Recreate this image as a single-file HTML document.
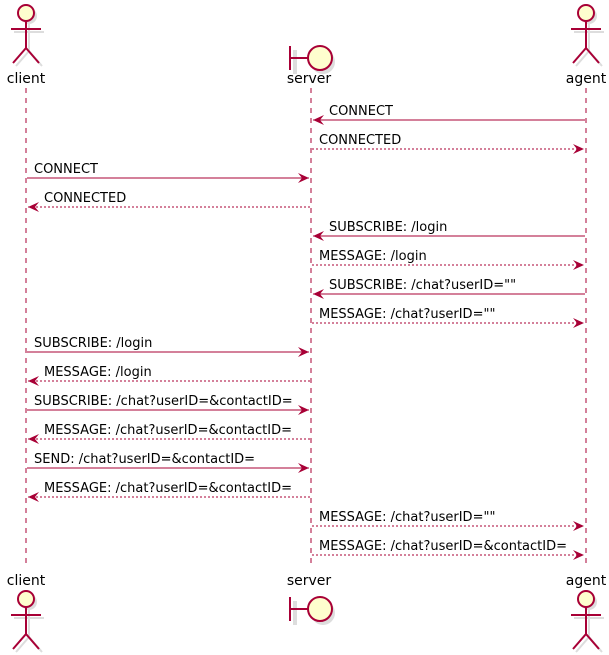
<!DOCTYPE html>
<html><head><style>body{margin:0;background:#fff}svg{display:block}</style></head><body>
<svg width="609" height="655" xmlns="http://www.w3.org/2000/svg" font-family="'DejaVu Sans','Liberation Sans',sans-serif">
<defs>
<g id="actor">
<circle cx="3" cy="3" r="8" fill="#ddd"/>
<path d="M3 11V38M-12 19H18M3 38L-10 53M3 38L16 53" stroke="#ddd" stroke-width="2" fill="none"/>
<circle cx="0" cy="0" r="8" fill="#FEFECE" stroke="#A80036" stroke-width="2"/>
<path d="M0 8V35M-15 16H15M0 35L-13 50M0 35L13 50" stroke="#A80036" stroke-width="2" fill="none"/>
</g>
<g id="bound">
<circle cx="13" cy="4" r="12" fill="#ddd"/>
<rect x="-17" y="-8" width="4" height="24" fill="#ddd"/>
<path d="M-20 -12V12M-20 0H-2" stroke="#A80036" stroke-width="2"/>
<circle cx="10" cy="0" r="12" fill="#FEFECE" stroke="#A80036" stroke-width="2"/>
</g>
<marker id="a" markerWidth="14" markerHeight="12" refX="11" refY="5" orient="auto" markerUnits="userSpaceOnUse"><path d="M0 0L11 5L0 10L4 5Z" fill="#A80036"/></marker>
</defs>
<g stroke="#A80036" stroke-dasharray="5,5">
<line x1="26" y1="88" x2="26" y2="568"/><line x1="311" y1="88" x2="311" y2="568"/><line x1="586" y1="88" x2="586" y2="568"/>
</g>
<use href="#actor" x="26" y="13"/><use href="#actor" x="586" y="13"/><use href="#bound" x="310" y="58"/>
<use href="#actor" x="26" y="599"/><use href="#actor" x="586" y="599"/><use href="#bound" x="310" y="609"/>
<g font-size="14" text-anchor="middle" fill="#000">
<text x="26" y="83">client</text><text x="309" y="83">server</text><text x="586" y="83">agent</text>
<text x="26" y="585">client</text><text x="309" y="585">server</text><text x="586" y="585">agent</text>
</g>
<g stroke="#A80036" fill="none" marker-end="url(#a)">
<line x1="585" y1="120" x2="313" y2="120"/>
<line x1="312" y1="149" x2="584" y2="149" stroke-dasharray="2,2"/>
<line x1="27" y1="178" x2="309" y2="178"/>
<line x1="310" y1="207" x2="28" y2="207" stroke-dasharray="2,2"/>
<line x1="585" y1="236" x2="313" y2="236"/>
<line x1="312" y1="265" x2="584" y2="265" stroke-dasharray="2,2"/>
<line x1="585" y1="294" x2="313" y2="294"/>
<line x1="312" y1="323" x2="584" y2="323" stroke-dasharray="2,2"/>
<line x1="27" y1="352" x2="309" y2="352"/>
<line x1="310" y1="381" x2="28" y2="381" stroke-dasharray="2,2"/>
<line x1="27" y1="410" x2="309" y2="410"/>
<line x1="310" y1="439" x2="28" y2="439" stroke-dasharray="2,2"/>
<line x1="27" y1="468" x2="309" y2="468"/>
<line x1="310" y1="497" x2="28" y2="497" stroke-dasharray="2,2"/>
<line x1="312" y1="526" x2="584" y2="526" stroke-dasharray="2,2"/>
<line x1="312" y1="555" x2="584" y2="555" stroke-dasharray="2,2"/>
</g>
<g font-size="13" fill="#000">
<text x="329" y="115">CONNECT</text>
<text x="319" y="144">CONNECTED</text>
<text x="34" y="173">CONNECT</text>
<text x="44" y="202">CONNECTED</text>
<text x="329" y="231">SUBSCRIBE: /login</text>
<text x="319" y="260">MESSAGE: /login</text>
<text x="329" y="289">SUBSCRIBE: /chat?userID=""</text>
<text x="319" y="318">MESSAGE: /chat?userID=""</text>
<text x="34" y="347">SUBSCRIBE: /login</text>
<text x="44" y="376">MESSAGE: /login</text>
<text x="34" y="405">SUBSCRIBE: /chat?userID=&amp;contactID=</text>
<text x="44" y="434">MESSAGE: /chat?userID=&amp;contactID=</text>
<text x="34" y="463">SEND: /chat?userID=&amp;contactID=</text>
<text x="44" y="492">MESSAGE: /chat?userID=&amp;contactID=</text>
<text x="319" y="521">MESSAGE: /chat?userID=""</text>
<text x="319" y="550">MESSAGE: /chat?userID=&amp;contactID=</text>
</g>
</svg>
</body></html>
